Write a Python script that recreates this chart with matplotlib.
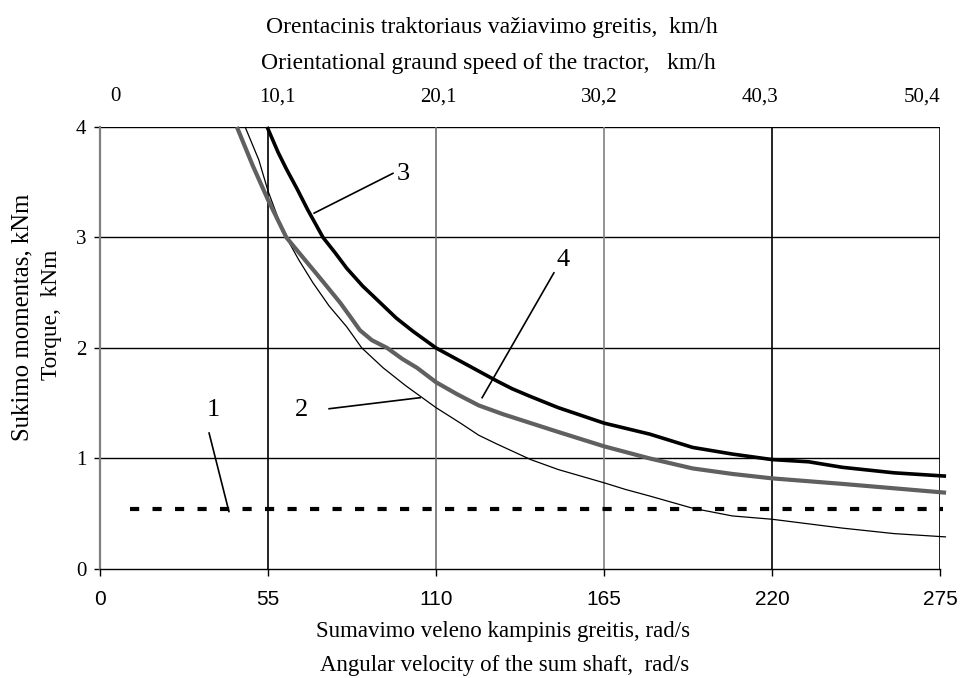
import numpy as np
import matplotlib
matplotlib.use("Agg")
import matplotlib.pyplot as plt

# curve 3 - thick black
w3 = [54.7, 58.3, 61, 64.5, 68, 73, 77, 80.8, 86, 91.7, 97, 102.5, 110, 118, 124, 130, 135, 141, 150, 165, 180, 194, 207, 220, 232, 243, 260, 277]
t3 = [4.0, 3.77, 3.62, 3.44, 3.25, 3.0, 2.86, 2.72, 2.56, 2.41, 2.27, 2.15, 2.0, 1.88, 1.79, 1.70, 1.63, 1.56, 1.46, 1.32, 1.22, 1.10, 1.04, 0.99, 0.97, 0.92, 0.87, 0.84]

# curve 2 - thin black
w2 = [47.5, 52, 55, 58.9, 61, 65, 69.7, 75, 80.8, 85.7, 92.7, 100, 110, 118, 124, 130, 141, 150, 165, 172, 180, 194, 207, 220, 243, 260, 277]
t2 = [4.0, 3.7, 3.42, 3.13, 3.0, 2.8, 2.59, 2.38, 2.19, 2.0, 1.82, 1.66, 1.46, 1.32, 1.21, 1.13, 0.99, 0.9, 0.78, 0.72, 0.66, 0.55, 0.48, 0.45, 0.37, 0.32, 0.29]

# curve 4 - gray
w4 = [44.8, 50, 55, 61, 67, 73, 78.6, 82, 85.1, 89, 94, 99, 103.8, 110, 117, 124, 132, 141, 150, 165, 180, 194, 207, 220, 243, 260, 277]
t4 = [4.0, 3.65, 3.34, 3.0, 2.8, 2.6, 2.41, 2.28, 2.16, 2.07, 2.0, 1.9, 1.82, 1.69, 1.58, 1.48, 1.40, 1.32, 1.24, 1.11, 1.0, 0.91, 0.86, 0.82, 0.77, 0.73, 0.69]

# line 1 - dashed
w1 = [9.8, 276]
t1 = [0.54, 0.54]

xticks = [0, 55, 110, 165, 220, 275]
yticks = [0, 1, 2, 3, 4]
top_labels = ["0", "10,1", "20,1", "30,2", "40,3", "50,4"]

serif = "Liberation Serif"
sans = "Liberation Sans"

fig = plt.figure(figsize=(9.61, 6.78), dpi=100)
ax = fig.add_axes([0.1041, 0.1608, 0.874, 0.652])
ax.set_xlim(0, 275)
ax.set_ylim(0, 4)

# grid
for y in yticks[1:]:
    ax.axhline(y, color="black", lw=1.0, zorder=1)
vcols = ["black", "#707070", "#808080", "black", "black"]
for x, c in zip(xticks[1:], vcols):
    ax.axvline(x, color=c, lw=1.2, zorder=1)

for s in ["top", "right"]:
    ax.spines[s].set_visible(False)
ax.spines["left"].set_color("#808080")
ax.spines["left"].set_linewidth(1.6)
ax.spines["bottom"].set_linewidth(1.0)

ax.set_xticks(xticks)
ax.set_yticks(yticks)
ax.tick_params(axis="x", length=5, width=1, pad=10, labelsize=15)
ax.tick_params(axis="y", length=4, width=1, pad=6, labelsize=15)
for lab in ax.get_xticklabels():
    lab.set_family(sans)
for lab in ax.get_yticklabels():
    lab.set_family(serif)

kw = dict(clip_on=False, solid_capstyle="butt", solid_joinstyle="round")
ax.plot(w1, t1, color="black", lw=3.0, linestyle=(0, (2.2, 3.2)), zorder=3, clip_on=False)
ax.plot(w2, t2, color="black", lw=0.9, zorder=4, **kw)
ax.plot(w4, t4, color="#606060", lw=3.0, zorder=5, **kw)
ax.plot(w3, t3, color="black", lw=2.6, zorder=6, **kw)

# labels with leader lines
ann = [("3", (99.2, 3.57), (70.1, 3.22), (95.9, 3.58)),
       ("4", (151.6, 2.80), (125.1, 1.55), (148.6, 2.68)),
       ("2", (66.1, 1.44), (104.8, 1.55), (75.0, 1.45)),
       ("1", (37.0, 1.44), (42.2, 0.52), (35.7, 1.23))]
for txt, tp, p0, p1 in ann:
    ax.plot([p0[0], p1[0]], [p0[1], p1[1]], color="black", lw=1.2, zorder=7)
    ax.text(tp[0], tp[1], txt, family=serif, fontsize=19, ha="center", va="center", zorder=8)

# top axis labels
top = ax.twiny()
top.set_xlim(0, 275)
top.set_xticks(np.linspace(5.2, 269, 6))
top.set_xticklabels(top_labels, family=serif, fontsize=15)
top.tick_params(axis="x", length=0, pad=15)
for s in top.spines.values():
    s.set_visible(False)

W, H = 961, 678
def ftext(px, py, s, size=15, **k):
    fig.text(px / W, 1 - py / H, s, family=serif, fontsize=size, ha="center", va="center", **k)

ftext(492, 27, "Orentacinis traktoriaus važiavimo greitis,  km/h", size=17)
ftext(488, 63, "Orientational graund speed of the tractor,   km/h", size=17)
ftext(503, 632, "Sumavimo veleno kampinis greitis, rad/s", size=16.5)
ftext(505, 665, "Angular velocity of the sum shaft,  rad/s", size=16.5)
ftext(22, 317, "Sukimo momentas, kNm", size=17.8, rotation=90)
ftext(52, 315, "Torque,  kNm", size=16.8, rotation=90)

fig.savefig("out.png", dpi=100)
